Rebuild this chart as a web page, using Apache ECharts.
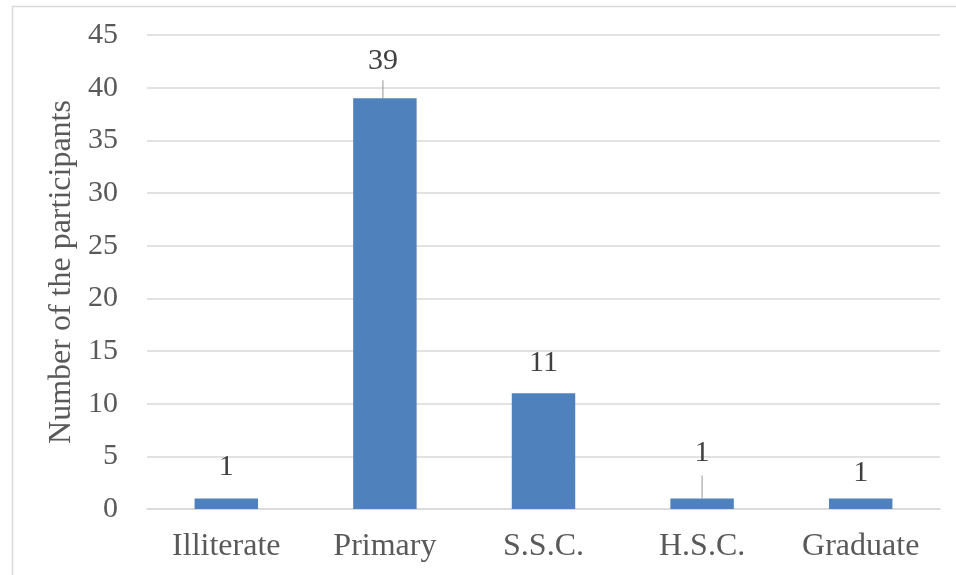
<!DOCTYPE html>
<html>
<head>
<meta charset="utf-8">
<script src="https://cdn.jsdelivr.net/npm/echarts@6/dist/echarts.min.js"></script>
<style>
  html, body { margin: 0; padding: 0; background: #fff; }
  #chart { width: 956px; height: 575px; }
</style>
</head>
<body>
<div id="chart"></div>
<script>
// Education level of participants
const categories = ['Illiterate', 'Primary', 'S.S.C.', 'H.S.C.', 'Graduate'];
const participants = [1, 39, 11, 1, 1];
const yTicks = { min: 0, max: 45, interval: 5 };

const FONT = '"Liberation Serif", "Times New Roman", serif';

// per-label nudges; labels with a leader line get a taller line box so the
// line stops short of the text
const labelTweaks = [
  { dx: 0, dy: 0 },
  { dx: -2, dy: -2, leader: true, lineHeight: 39 },
  { dx: 0, dy: 1 },
  { dx: 0, dy: -7, leader: true, lineHeight: 44 },
  { dx: 0, dy: 6 }
];

const seriesData = participants.map(function (v, i) {
  const t = labelTweaks[i];
  const item = { value: v };
  if (t.leader) {
    item.label = { lineHeight: t.lineHeight };
    item.labelLine = { show: true };
  }
  return item;
});

const chart = echarts.init(document.getElementById('chart'), null, { renderer: 'canvas' });

chart.setOption({
  animation: false,
  backgroundColor: '#ffffff',
  textStyle: { fontFamily: FONT },
  graphic: [{
    type: 'rect',
    left: 10, top: 4,
    shape: { width: 960, height: 600 },
    style: { fill: 'none', stroke: '#d9d9d9', lineWidth: 1.5 },
    silent: true
  }],
  grid: { left: 147, right: 16, top: 35, bottom: 66, containLabel: false },
  xAxis: {
    type: 'category',
    data: categories,
    axisLine: { show: true, lineStyle: { color: '#d9d9d9', width: 1.5 } },
    axisTick: { show: false },
    axisLabel: { color: '#595959', fontSize: 32, fontFamily: FONT, margin: 22 }
  },
  yAxis: {
    type: 'value',
    min: yTicks.min, max: yTicks.max, interval: yTicks.interval,
    name: 'Number of the participants',
    nameLocation: 'middle',
    nameGap: 66,
    nameTextStyle: { color: '#595959', fontSize: 32, fontFamily: FONT },
    axisLine: { show: false },
    axisTick: { show: false },
    splitLine: { lineStyle: { color: '#d9d9d9', width: 1.5 } },
    axisLabel: { color: '#595959', fontSize: 30, fontFamily: FONT, margin: 29 }
  },
  series: [{
    type: 'bar',
    data: seriesData,
    barWidth: '40%',
    itemStyle: { color: '#4f81bd' },
    label: {
      show: true,
      position: 'top',
      distance: 16,
      color: '#404040',
      fontSize: 30,
      fontFamily: FONT
    },
    labelLine: { show: false, lineStyle: { color: '#a6a6a6', width: 1.2 } },
    labelLayout: function (params) {
      const t = labelTweaks[params.dataIndex];
      return { dx: t.dx, dy: t.dy };
    }
  }]
});
</script>
</body>
</html>
